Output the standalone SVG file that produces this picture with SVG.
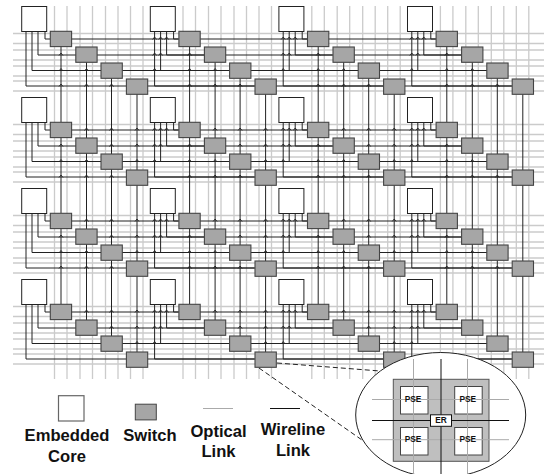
<svg xmlns="http://www.w3.org/2000/svg" width="551" height="474" viewBox="0 0 551 474">
<style>
.bg{fill:#fff}
.opt{fill:none;stroke:#cbcbcb;stroke-width:1.3}
.wire{fill:none;stroke:#222;stroke-width:1}
.car{fill:none;stroke:#222;stroke-width:.9}
.core{fill:#fff;stroke:#222;stroke-width:1}
.sw{fill:#a6a6a6;stroke:#444;stroke-width:1.1}
text{font-family:"Liberation Sans",Arial,sans-serif;font-weight:bold;fill:#111;text-anchor:middle}
.lg{font-size:16.6px}
.sm{font-size:8.3px}
</style>
<defs>
<rect id="c" class="core" x="21.7" y="6.5" width="25" height="25"/>
<rect id="s1" class="sw" x="50.3" y="31.3" width="21.3" height="15.3"/>
<rect id="s2" class="sw" x="75.8" y="47" width="21.3" height="15.3"/>
<rect id="s3" class="sw" x="101" y="63" width="21.3" height="15.3"/>
<rect id="s4" class="sw" x="126.4" y="79" width="21.3" height="15.3"/>
<path id="wc" class="wire" d="M26 31V86H126M32 31V70.500H101M38 31V55H76M45 31V39H50"/>
<path id="wh" class="wire" d="M71 39H179M97 55H204M122 70.500H230M147 86H255"/>
<path id="wv" class="wire" d="M61 46V122M86.500 62V138M111.500 78V154M137 94V170"/>
<path id="cA" class="car" d="M152.600 39.500l2-2.500 2 2.500M158.600 39.500l2-2.500 2 2.500M164.600 39.500l2-2.500 2 2.500M152.600 55.500l2-2.500 2 2.500M158.600 55.500l2-2.500 2 2.500M152.600 71l2-2.500 2 2.500"/>
<path id="cB" class="car" d="M59 55.500l2-2.500 2 2.500M59 71l2-2.500 2 2.500M59 86.500l2-2.500 2 2.500M84.500 71l2-2.500 2 2.500M84.500 86.500l2-2.500 2 2.500M109.500 86.500l2-2.500 2 2.500"/>
<path id="cC" class="car" d="M84.500 39.500l2-2.500 2 2.500M109.500 39.500l2-2.500 2 2.500M135 39.500l2-2.500 2 2.500M109.500 55.500l2-2.500 2 2.500M135 55.500l2-2.500 2 2.500M135 71l2-2.500 2 2.500"/>
</defs>
<rect class="bg" width="551" height="474"/>
<g id="connectors">
<path id="optical-h" class="opt" d="M13 33.500H544M13 43.500H544M13 50H544M13 60H544M13 66H544M13 76H544M13 81H544M13 91H544M13 124.500H544M13 134.500H544M13 141H544M13 151H544M13 157H544M13 167H544M13 172H544M13 182H544M13 215.500H544M13 225.500H544M13 232H544M13 242H544M13 248H544M13 258H544M13 263H544M13 273H544M13 306.500H544M13 316.500H544M13 323H544M13 333H544M13 339H544M13 349H544M13 354H544M13 364H544"/>
<path id="optical-v" class="opt" d="M54.500 6V379M67 6V379M80 6V379M92.500 6V379M105.500 6V379M118 6V379M130.500 6V379M143 6V379M183 6V379M195.500 6V379M208.500 6V379M221 6V379M234 6V379M246.500 6V379M259 6V379M271.500 6V379M311.800 6V379M324.300 6V379M337.200 6V379M349.700 6V379M362.700 6V379M375.200 6V379M387.700 6V379M400.200 6V379M440.400 6V379M452.900 6V379M465.800 6V379M478.300 6V379M491.300 6V379M503.800 6V379M516.300 6V379M528.800 6V379"/>
<g id="row-links-1"><use href="#wc"/><use href="#wc" x="128.600"/><use href="#wc" x="257.200"/><use href="#wc" x="385.800"/><use href="#wh"/><use href="#wh" x="128.600"/><use href="#wh" x="257.200"/><use href="#wv"/><use href="#wv" x="128.600"/><use href="#wv" x="257.200"/><use href="#wv" x="385.800"/><use href="#cA"/><use href="#cA" x="128.600"/><use href="#cA" x="257.200"/><use href="#cB"/><use href="#cB" x="128.600"/><use href="#cB" x="257.200"/><use href="#cB" x="385.800"/></g>
<g id="row-links-2" transform="translate(0 91)"><use href="#wc"/><use href="#wc" x="128.600"/><use href="#wc" x="257.200"/><use href="#wc" x="385.800"/><use href="#wh"/><use href="#wh" x="128.600"/><use href="#wh" x="257.200"/><use href="#wv"/><use href="#wv" x="128.600"/><use href="#wv" x="257.200"/><use href="#wv" x="385.800"/><use href="#cA"/><use href="#cA" x="128.600"/><use href="#cA" x="257.200"/><use href="#cB"/><use href="#cB" x="128.600"/><use href="#cB" x="257.200"/><use href="#cB" x="385.800"/><use href="#cC"/><use href="#cC" x="128.600"/><use href="#cC" x="257.200"/></g>
<g id="row-links-3" transform="translate(0 182)"><use href="#wc"/><use href="#wc" x="128.600"/><use href="#wc" x="257.200"/><use href="#wc" x="385.800"/><use href="#wh"/><use href="#wh" x="128.600"/><use href="#wh" x="257.200"/><use href="#wv"/><use href="#wv" x="128.600"/><use href="#wv" x="257.200"/><use href="#wv" x="385.800"/><use href="#cA"/><use href="#cA" x="128.600"/><use href="#cA" x="257.200"/><use href="#cB"/><use href="#cB" x="128.600"/><use href="#cB" x="257.200"/><use href="#cB" x="385.800"/><use href="#cC"/><use href="#cC" x="128.600"/><use href="#cC" x="257.200"/></g>
<g id="row-links-4" transform="translate(0 273)"><use href="#wc"/><use href="#wc" x="128.600"/><use href="#wc" x="257.200"/><use href="#wc" x="385.800"/><use href="#wh"/><use href="#wh" x="128.600"/><use href="#wh" x="257.200"/><use href="#cA"/><use href="#cA" x="128.600"/><use href="#cA" x="257.200"/><use href="#cC"/><use href="#cC" x="128.600"/><use href="#cC" x="257.200"/></g>
</g>
<g id="nodes">
<g id="tile-r1c1"><g id="core-r1c1"><use href="#c"/></g><g id="sw-r1c1-1"><use href="#s1"/></g><g id="sw-r1c1-2"><use href="#s2"/></g><g id="sw-r1c1-3"><use href="#s3"/></g><g id="sw-r1c1-4"><use href="#s4"/></g></g>
<g id="tile-r1c2" transform="translate(128.600 0)"><g id="core-r1c2"><use href="#c"/></g><g id="sw-r1c2-1"><use href="#s1"/></g><g id="sw-r1c2-2"><use href="#s2"/></g><g id="sw-r1c2-3"><use href="#s3"/></g><g id="sw-r1c2-4"><use href="#s4"/></g></g>
<g id="tile-r1c3" transform="translate(257.200 0)"><g id="core-r1c3"><use href="#c"/></g><g id="sw-r1c3-1"><use href="#s1"/></g><g id="sw-r1c3-2"><use href="#s2"/></g><g id="sw-r1c3-3"><use href="#s3"/></g><g id="sw-r1c3-4"><use href="#s4"/></g></g>
<g id="tile-r1c4" transform="translate(385.800 0)"><g id="core-r1c4"><use href="#c"/></g><g id="sw-r1c4-1"><use href="#s1"/></g><g id="sw-r1c4-2"><use href="#s2"/></g><g id="sw-r1c4-3"><use href="#s3"/></g><g id="sw-r1c4-4"><use href="#s4"/></g></g>
<g id="tile-r2c1" transform="translate(0 91)"><g id="core-r2c1"><use href="#c"/></g><g id="sw-r2c1-1"><use href="#s1"/></g><g id="sw-r2c1-2"><use href="#s2"/></g><g id="sw-r2c1-3"><use href="#s3"/></g><g id="sw-r2c1-4"><use href="#s4"/></g></g>
<g id="tile-r2c2" transform="translate(128.600 91)"><g id="core-r2c2"><use href="#c"/></g><g id="sw-r2c2-1"><use href="#s1"/></g><g id="sw-r2c2-2"><use href="#s2"/></g><g id="sw-r2c2-3"><use href="#s3"/></g><g id="sw-r2c2-4"><use href="#s4"/></g></g>
<g id="tile-r2c3" transform="translate(257.200 91)"><g id="core-r2c3"><use href="#c"/></g><g id="sw-r2c3-1"><use href="#s1"/></g><g id="sw-r2c3-2"><use href="#s2"/></g><g id="sw-r2c3-3"><use href="#s3"/></g><g id="sw-r2c3-4"><use href="#s4"/></g></g>
<g id="tile-r2c4" transform="translate(385.800 91)"><g id="core-r2c4"><use href="#c"/></g><g id="sw-r2c4-1"><use href="#s1"/></g><g id="sw-r2c4-2"><use href="#s2"/></g><g id="sw-r2c4-3"><use href="#s3"/></g><g id="sw-r2c4-4"><use href="#s4"/></g></g>
<g id="tile-r3c1" transform="translate(0 182)"><g id="core-r3c1"><use href="#c"/></g><g id="sw-r3c1-1"><use href="#s1"/></g><g id="sw-r3c1-2"><use href="#s2"/></g><g id="sw-r3c1-3"><use href="#s3"/></g><g id="sw-r3c1-4"><use href="#s4"/></g></g>
<g id="tile-r3c2" transform="translate(128.600 182)"><g id="core-r3c2"><use href="#c"/></g><g id="sw-r3c2-1"><use href="#s1"/></g><g id="sw-r3c2-2"><use href="#s2"/></g><g id="sw-r3c2-3"><use href="#s3"/></g><g id="sw-r3c2-4"><use href="#s4"/></g></g>
<g id="tile-r3c3" transform="translate(257.200 182)"><g id="core-r3c3"><use href="#c"/></g><g id="sw-r3c3-1"><use href="#s1"/></g><g id="sw-r3c3-2"><use href="#s2"/></g><g id="sw-r3c3-3"><use href="#s3"/></g><g id="sw-r3c3-4"><use href="#s4"/></g></g>
<g id="tile-r3c4" transform="translate(385.800 182)"><g id="core-r3c4"><use href="#c"/></g><g id="sw-r3c4-1"><use href="#s1"/></g><g id="sw-r3c4-2"><use href="#s2"/></g><g id="sw-r3c4-3"><use href="#s3"/></g><g id="sw-r3c4-4"><use href="#s4"/></g></g>
<g id="tile-r4c1" transform="translate(0 273)"><g id="core-r4c1"><use href="#c"/></g><g id="sw-r4c1-1"><use href="#s1"/></g><g id="sw-r4c1-2"><use href="#s2"/></g><g id="sw-r4c1-3"><use href="#s3"/></g><g id="sw-r4c1-4"><use href="#s4"/></g></g>
<g id="tile-r4c2" transform="translate(128.600 273)"><g id="core-r4c2"><use href="#c"/></g><g id="sw-r4c2-1"><use href="#s1"/></g><g id="sw-r4c2-2"><use href="#s2"/></g><g id="sw-r4c2-3"><use href="#s3"/></g><g id="sw-r4c2-4"><use href="#s4"/></g></g>
<g id="tile-r4c3" transform="translate(257.200 273)"><g id="core-r4c3"><use href="#c"/></g><g id="sw-r4c3-1"><use href="#s1"/></g><g id="sw-r4c3-2"><use href="#s2"/></g><g id="sw-r4c3-3"><use href="#s3"/></g><g id="sw-r4c3-4"><use href="#s4"/></g></g>
<g id="tile-r4c4" transform="translate(385.800 273)"><g id="core-r4c4"><use href="#c"/></g><g id="sw-r4c4-1"><use href="#s1"/></g><g id="sw-r4c4-2"><use href="#s2"/></g><g id="sw-r4c4-3"><use href="#s3"/></g><g id="sw-r4c4-4"><use href="#s4"/></g></g>
</g>
<g id="legend">
<rect x="58.500" y="395.700" width="25.500" height="25.300" fill="#fff" stroke="#666" stroke-width="1.200"/>
<rect x="135.300" y="404.200" width="21" height="15.700" fill="#a6a6a6" stroke="#444" stroke-width="1"/>
<path d="M203 408.500H233" stroke="#aaa" stroke-width="1"/>
<path d="M270 408.500H300" stroke="#111" stroke-width="1"/>
<text class="lg" x="67" y="441">Embedded</text>
<text class="lg" x="67" y="462">Core</text>
<text class="lg" x="150" y="441">Switch</text>
<text class="lg" x="218.500" y="437">Optical</text>
<text class="lg" x="218.500" y="457">Link</text>
<text class="lg" x="293" y="435">Wireline</text>
<text class="lg" x="293" y="456">Link</text>
</g>
<g id="callout">
<path d="M277 363L380 371M259 368L362 440" fill="none" stroke="#222" stroke-width="1" stroke-dasharray="5 3"/>
<ellipse cx="440.700" cy="415" rx="85" ry="62.500" fill="#fff" stroke="#222" stroke-width="1"/>
<rect x="393.300" y="379.300" width="95.700" height="82" fill="#bfbfbf" stroke="#555" stroke-width="1"/>
<g id="pse-1"><rect x="400.500" y="386.500" width="27.500" height="27.500" fill="#fff" stroke="#444"/></g>
<g id="pse-2"><rect x="454.700" y="386.500" width="27.500" height="27.500" fill="#fff" stroke="#444"/></g>
<g id="pse-3"><rect x="400.500" y="427.500" width="27.500" height="27.500" fill="#fff" stroke="#444"/></g>
<g id="pse-4"><rect x="454.700" y="427.500" width="27.500" height="27.500" fill="#fff" stroke="#444"/></g>
<path d="M372 399.500H509M372 439.700H509M413.500 359V474M467.500 359V474" fill="none" stroke="#aaa" stroke-width="1"/>
<path d="M372 420.500H509M441 359V474" fill="none" stroke="#111" stroke-width="1"/>
<g id="er"><rect x="430.500" y="414.800" width="21" height="11.500" fill="#fff" stroke="#111"/><text class="sm" x="441" y="423.300">ER</text></g>
<text class="sm" x="413" y="402">PSE</text>
<text class="sm" x="467.700" y="402">PSE</text>
<text class="sm" x="413" y="442">PSE</text>
<text class="sm" x="467.700" y="442">PSE</text>
</g>
</svg>
